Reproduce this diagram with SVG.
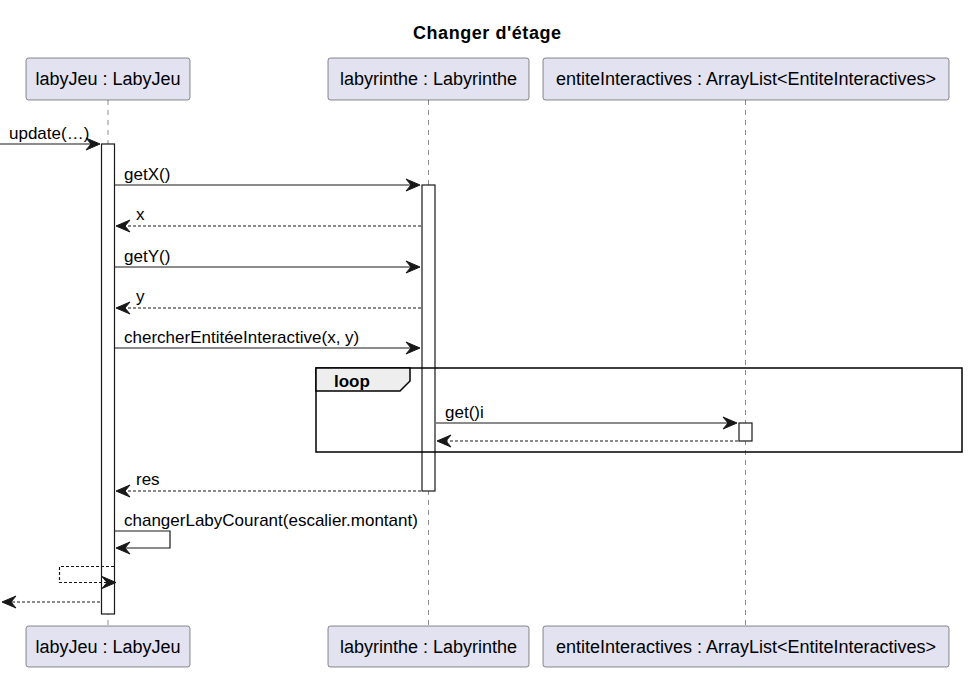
<svg xmlns="http://www.w3.org/2000/svg" width="969" height="673" viewBox="0 0 969 673">
<style>
text{font-family:"Liberation Sans",Arial,sans-serif;fill:#000}
.t{font-size:18px}
.m{font-size:17px}
.p{fill:#E2E2F0;stroke:#181818;stroke-width:0.5}
.life{stroke:#181818;stroke-width:0.5;stroke-dasharray:5,5;fill:none}
.act{fill:#FFFFFF;stroke:#181818;stroke-width:1.2}
.s{stroke:#181818;stroke-width:1.2;fill:none}
.d{stroke:#181818;stroke-width:1.2;fill:none;stroke-dasharray:3,2}
.ah{fill:#181818;stroke:#181818;stroke-width:1}
</style>
<rect width="969" height="673" fill="#FFFFFF"/>
<text x="487" y="39" text-anchor="middle" textLength="148" lengthAdjust="spacing" style="font-size:18px;font-weight:bold">Changer d'étage</text>

<g id="lifelines">
<line class="life" x1="108" y1="100" x2="108" y2="626"/>
<line class="life" x1="428.5" y1="100" x2="428.5" y2="626"/>
<line class="life" x1="745.5" y1="100" x2="745.5" y2="626"/>
</g>

<g id="p-labyJeu">
<rect class="p" x="26" y="58" width="164" height="42" rx="2.5"/>
<text class="t" x="108" y="85" text-anchor="middle">labyJeu : LabyJeu</text>
<rect class="p" x="26" y="626" width="164" height="41" rx="2.5"/>
<text class="t" x="108" y="653" text-anchor="middle">labyJeu : LabyJeu</text>
</g>
<g id="p-labyrinthe">
<rect class="p" x="328" y="58" width="201" height="42" rx="2.5"/>
<text class="t" x="428.5" y="85" text-anchor="middle">labyrinthe : Labyrinthe</text>
<rect class="p" x="328" y="626" width="201" height="41" rx="2.5"/>
<text class="t" x="428.5" y="653" text-anchor="middle">labyrinthe : Labyrinthe</text>
</g>
<g id="p-entite">
<rect class="p" x="543" y="58" width="406" height="42" rx="2.5"/>
<text class="t" x="746" y="85" text-anchor="middle">entiteInteractives : ArrayList&lt;EntiteInteractives&gt;</text>
<rect class="p" x="543" y="626" width="406" height="41" rx="2.5"/>
<text class="t" x="746" y="653" text-anchor="middle">entiteInteractives : ArrayList&lt;EntiteInteractives&gt;</text>
</g>

<g id="activations">
<rect class="act" x="101.5" y="144" width="13" height="470"/>
<rect class="act" x="422" y="185" width="13" height="306"/>
<rect class="act" x="739" y="423" width="13" height="18"/>
</g>

<g id="loop">
<rect x="316" y="368" width="646" height="84" fill="none" stroke="#000" stroke-width="1.5"/>
<path d="M316,368 L410,368 L410,381 L400,391 L316,391 Z" fill="#EEEEEE" stroke="#000" stroke-width="1.5"/>
<text x="334" y="387" style="font-size:17px;font-weight:bold">loop</text>
</g>

<g id="connectors">
<line class="s" x1="0" y1="144" x2="98" y2="144"/>
<polygon class="ah" points="100,144 86,138 91,144 86,150"/>
<text class="m" x="9" y="139">update(…)</text>

<line class="s" x1="115" y1="185" x2="418" y2="185"/>
<polygon class="ah" points="420,185 406,179 411,185 406,191"/>
<text class="m" x="124" y="180">getX()</text>

<line class="d" x1="421" y1="226" x2="118" y2="226"/>
<polygon class="ah" points="116,226 130,220 125,226 130,232"/>
<text class="m" x="136" y="220">x</text>

<line class="s" x1="115" y1="267" x2="418" y2="267"/>
<polygon class="ah" points="420,267 406,261 411,267 406,273"/>
<text class="m" x="124" y="262">getY()</text>

<line class="d" x1="421" y1="308" x2="118" y2="308"/>
<polygon class="ah" points="116,308 130,302 125,308 130,314"/>
<text class="m" x="136" y="302">y</text>

<line class="s" x1="115" y1="348" x2="418" y2="348"/>
<polygon class="ah" points="420,348 406,342 411,348 406,354"/>
<text class="m" x="124" y="343">chercherEntitéeInteractive(x, y)</text>

<line class="s" x1="436" y1="423" x2="735" y2="423"/>
<polygon class="ah" points="737,423 723,417 728,423 723,429"/>
<text class="m" x="445" y="418">get()i</text>

<line class="d" x1="738" y1="441" x2="439" y2="441"/>
<polygon class="ah" points="437,441 451,435 446,441 451,447"/>

<line class="d" x1="421" y1="491" x2="118" y2="491"/>
<polygon class="ah" points="116,491 130,485 125,491 130,497"/>
<text class="m" x="136" y="485">res</text>

<polyline class="s" points="115,531 170,531 170,548 118,548"/>
<polygon class="ah" points="116,548 130,542 125,548 130,554"/>
<text class="m" x="124" y="526">changerLabyCourant(escalier.montant)</text>

<polyline class="d" points="114,566.5 59.5,566.5 59.5,582.5 112,582.5"/>
<polygon class="ah" points="116,582.5 102,576.5 107,582.5 102,588.5"/>

<line class="d" x1="100" y1="602" x2="4" y2="602"/>
<polygon class="ah" points="2,602 16,596 11,602 16,608"/>
</g>
</svg>
